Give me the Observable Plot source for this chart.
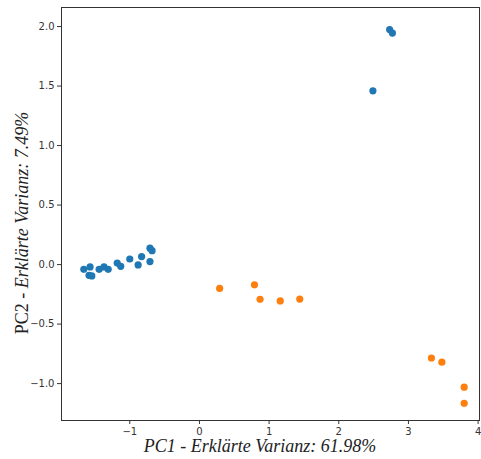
<!DOCTYPE html>
<html>
<head>
<meta charset="utf-8">
<script src="https://cdn.jsdelivr.net/npm/d3@7"></script>
<script src="https://cdn.jsdelivr.net/npm/@observablehq/plot@0.6"></script>
<style>
  html, body { margin: 0; padding: 0; background: #fff; }
  #chart svg { display: block; }
</style>
</head>
<body>
<div id="chart"></div>
<script>
// Group 1 (blue)
const blueX = [-1.66, -1.57, -1.585, -1.545, -1.44, -1.37, -1.31, -1.18, -1.13, -1.0, -0.88, -0.83, -0.71, -0.71, -0.68, 2.73, 2.77, 2.49];
const blueY = [-0.04, -0.02, -0.09, -0.095, -0.04, -0.02, -0.04, 0.013, -0.015, 0.047, -0.003, 0.067, 0.025, 0.138, 0.117, 1.975, 1.945, 1.46];
// Group 2 (orange)
const orangeX = [0.29, 0.79, 0.87, 1.16, 1.44, 3.33, 3.48, 3.80, 3.80];
const orangeY = [-0.2, -0.17, -0.292, -0.305, -0.29, -0.785, -0.82, -1.03, -1.165];

const xTicks = [-1, 0, 1, 2, 3, 4];
const yTicks = [-1.0, -0.5, 0.0, 0.5, 1.0, 1.5, 2.0];
const xLabel = "PC1 - Erklärte Varianz: 61.98%";
const yLabelPlain = "PC2 - ";
const yLabelItalic = "Erklärte Varianz: 7.49%";

const blue = blueX.map((x, i) => ({x, y: blueY[i]}));
const orange = orangeX.map((x, i) => ({x, y: orangeY[i]}));

const W = 481, H = 459;
const mL = 61, mR = 2, mT = 7, mB = 39;

const plot = Plot.plot({
  width: W,
  height: H,
  marginLeft: mL,
  marginRight: mR,
  marginTop: mT,
  marginBottom: mB,
  style: {fontFamily: "DejaVu Sans, sans-serif", fontSize: "10px", color: "#333", background: "#fff"},
  x: {domain: [-1.98, 4.02], ticks: xTicks, tickFormat: d3.format(".0f"), label: null, tickSize: 4, tickPadding: 3},
  y: {domain: [-1.31, 2.16], ticks: yTicks, tickFormat: d3.format(".1f"), label: null, tickSize: 4, tickPadding: 3},
  marks: [
    Plot.frame({stroke: "#333", strokeWidth: 1}),
    Plot.dot(blue, {x: "x", y: "y", r: 3.6, fill: "#1f77b4", stroke: "none"}),
    Plot.dot(orange, {x: "x", y: "y", r: 3.6, fill: "#ff7f0e", stroke: "none"})
  ]
});

const svg = d3.select(plot);
svg.append("text")
  .attr("x", 260)
  .attr("y", 452)
  .attr("text-anchor", "middle")
  .attr("font-family", "Liberation Serif, serif")
  .attr("font-style", "italic")
  .attr("font-size", 18)
  .attr("fill", "#222")
  .text(xLabel);

const yl = svg.append("text")
  .attr("transform", `translate(28,${223}) rotate(-90)`)
  .attr("text-anchor", "middle")
  .attr("font-family", "Liberation Serif, serif")
  .attr("font-size", 18)
  .attr("fill", "#222");
yl.append("tspan").text(yLabelPlain);
yl.append("tspan").attr("font-style", "italic").text(yLabelItalic);

document.getElementById("chart").appendChild(plot);
</script>
</body>
</html>
